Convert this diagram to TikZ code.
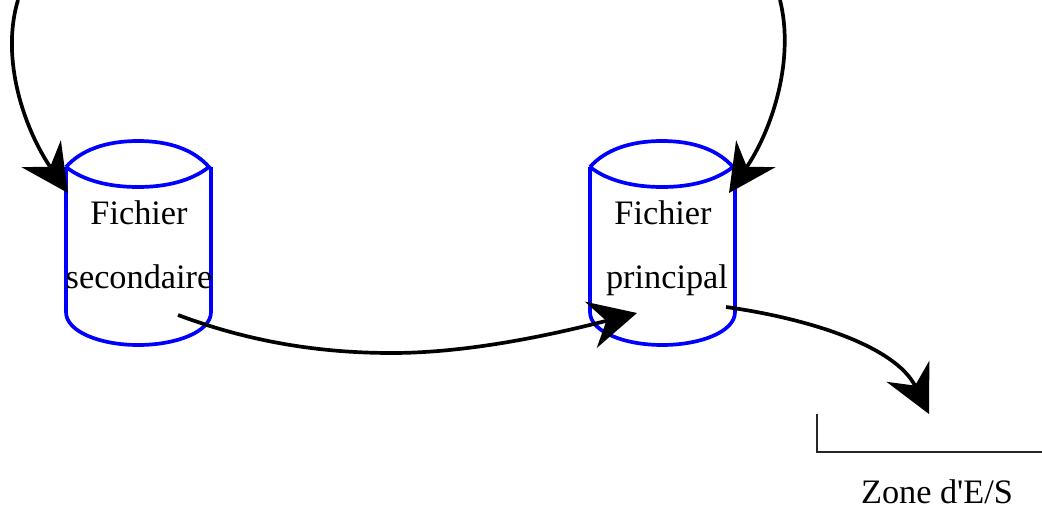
\documentclass[tikz,border=0pt]{standalone}
\usepackage{fontspec}
\newfontfamily\serif{Liberation Serif}
\usetikzlibrary{arrows.meta}
\tikzset{
  cyl/.style={draw=blue,line width=1.05pt},
  fleche/.style={draw=black,line width=1.05pt,-{Stealth[length=13.5pt,width=13.5pt,inset=4.5pt]}},
  etiq/.style={anchor=base,inner sep=0pt,font=\serif\fontsize{9.75}{11}\selectfont},
}
\begin{document}
\begin{tikzpicture}[x=.01cm,y=-.01cm]
    \useasboundingbox (0,0) rectangle (1042,509);
    \begin{scope}[shift={(66,167)}]
      \draw[cyl](0,0).. controls (15,-17) and (40,-26) .. (72,-26) .. controls (104,-26) and (128,-17) .. (143,0) .. controls (125,14) and (100,20) .. (72,20) .. controls (44,20) and (18,14) .. (0,0);
      \draw[cyl](0,0)--(0,145) .. controls (0,165) and (35,178) .. (72,178) .. controls (110,178) and (145,165) .. (145,145)--(145,0);
      \node[etiq] (fichS) at (73,57) {Fichier};
      \node[etiq] (secS) at (73,121) {secondaire};
      \coordinate (entreeS) at (2,26);
      \coordinate (sortieS) at (112,148);
    \end{scope}
    \begin{scope}[shift={(590,167)}]
      \draw[cyl](0,0).. controls (15,-17) and (40,-26) .. (72,-26) .. controls (104,-26) and (128,-17) .. (143,0) .. controls (125,14) and (100,20) .. (72,20) .. controls (44,20) and (18,14) .. (0,0);
      \draw[cyl](0,0)--(0,145) .. controls (0,165) and (35,178) .. (72,178) .. controls (110,178) and (145,165) .. (145,145)--(145,0);
      \node[etiq] (fichP) at (73,57) {Fichier};
      \node[etiq] (prinP) at (77,121) {principal};
      \coordinate (entreeP) at (139,26);
      \coordinate (arriveeP) at (47,146);
      \coordinate (sortieP) at (136,140);
    \end{scope}
    \coordinate (hautS) at (18,0);
    \coordinate (hautP) at (780,0);
    \coordinate (milieu) at (392,353);
    \coordinate (zone) at (929,414);
    \coordinate (zoneA) at (817,414);
    \coordinate (zoneB) at (817,452);
    \coordinate (zoneC) at (1042,452);
    \draw[fleche](hautS).. controls (0,60) and (25,130) .. (entreeS);
    \draw[fleche](hautP).. controls (795,60) and (772,130) .. (entreeP);
    \draw[fleche](sortieS).. controls (250,342) and (320,353) .. (milieu) .. controls (470,353) and (555,334) .. (arriveeP);
    \draw[fleche](sortieP).. controls (805,318) and (895,345) .. (zone);
    \draw[line width=.3pt,black!85](zoneA)--(zoneB)--(zoneC);
    \node[etiq] (zoneES) at (937,503) {Zone d'E/S};
\end{tikzpicture}
\end{document}
